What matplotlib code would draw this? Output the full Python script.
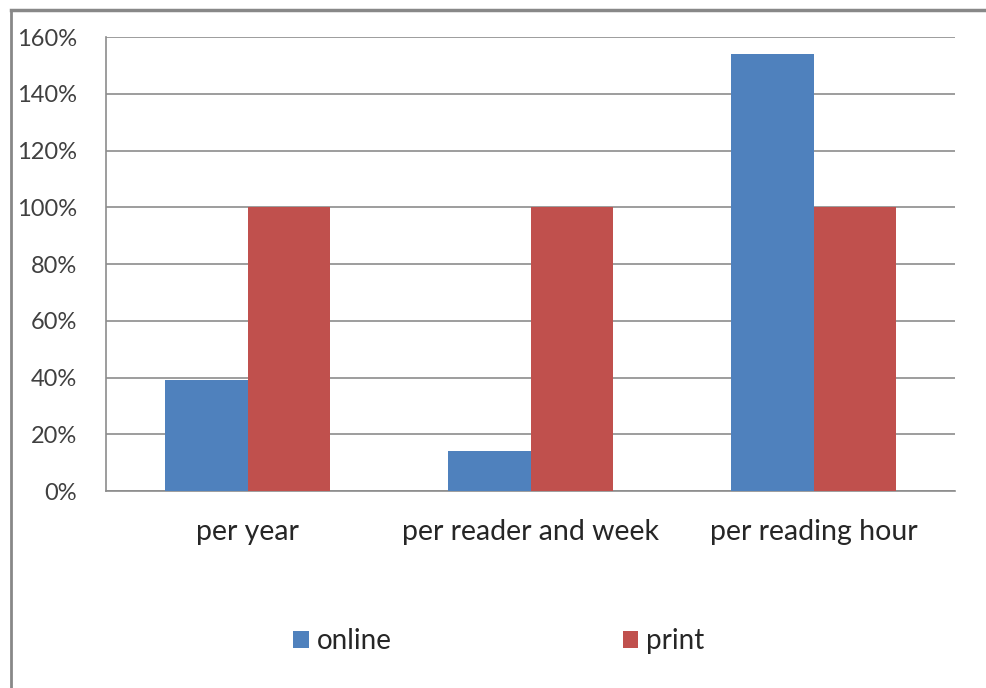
import matplotlib
matplotlib.use("Agg")
import matplotlib.pyplot as plt
import numpy as np
from matplotlib.lines import Line2D

categories = ["per year", "per reader and week", "per reading hour"]
online = [39, 14, 154]
print_ = [100, 100, 100]
yticks = [0, 20, 40, 60, 80, 100, 120, 140, 160]
ytick_labels = ["0%", "20%", "40%", "60%", "80%", "100%", "120%", "140%", "160%"]

plt.rcParams['font.family'] = ['Lato', 'DejaVu Sans']

W, H = 986, 688
fig = plt.figure(figsize=(W / 100, H / 100), dpi=100)
ax = fig.add_axes([106 / W, 1 - 491 / H, (955 - 106) / W, (491 - 37) / H])

x = np.arange(len(categories))
bw = 0.29
ax.bar(x - bw / 2, online, bw, color="#4F81BD", label="online", zorder=3)
ax.bar(x + bw / 2, print_, bw, color="#C0504D", label="print", zorder=3)

ax.set_xlim(-0.5, len(categories) - 0.5)
ax.set_ylim(0, 160)
ax.set_yticks(yticks)
ax.set_yticklabels(ytick_labels, fontsize=17, color="#404040")
ax.set_xticks(x)
ax.set_xticklabels(categories, fontsize=20.5, color="#262626")
ax.tick_params(axis="y", length=0, pad=21)
ax.tick_params(axis="x", length=0, pad=20)
ax.yaxis.grid(True, color="#8c8c8c", linewidth=1.2, zorder=0)
for s in ["top", "right"]:
    ax.spines[s].set_visible(False)
ax.spines["left"].set_color("#8c8c8c")
ax.spines["bottom"].set_color("#8c8c8c")
ax.spines["left"].set_linewidth(1.2)
ax.spines["bottom"].set_linewidth(1.2)

# outer frame (top and left visible)
fig.add_artist(Line2D([11 / W, 1.0], [1 - 10 / H, 1 - 10 / H], transform=fig.transFigure,
                      color="#888888", linewidth=2.5))
fig.add_artist(Line2D([11 / W, 11 / W], [0, 1 - 10 / H], transform=fig.transFigure,
                      color="#888888", linewidth=2.0))

leg = fig.legend(loc="center", bbox_to_anchor=(0.506, 1 - 641 / H), ncol=2, frameon=False,
                 fontsize=20, handlelength=0.55, handleheight=0.55, handletextpad=0.3,
                 columnspacing=8.3)
for t in leg.get_texts():
    t.set_color("#262626")

fig.savefig("out.png", dpi=100)
